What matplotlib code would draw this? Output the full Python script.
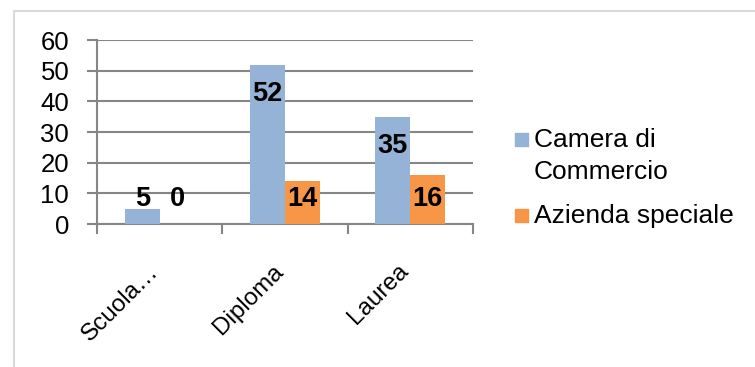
import matplotlib
matplotlib.use("Agg")
import matplotlib.pyplot as plt
from matplotlib.patches import Rectangle
import matplotlib.transforms as mtransforms
import numpy as np

plt.rcParams['font.family'] = ['Liberation Sans', 'DejaVu Sans']

categories = ["Scuola…", "Diploma", "Laurea"]
series_names = ["Camera di\nCommercio", "Azienda speciale"]
camera = [5, 52, 35]
azienda = [0, 14, 16]
yticks = [0, 10, 20, 30, 40, 50, 60]

blue = "#95B3D7"
orange = "#F79646"
grid_col = "#868686"
colors = [blue, orange]

fig = plt.figure(figsize=(7.55, 3.67), dpi=100)
fig.patches.append(Rectangle((14 / 755, -0.1), 1.2, 1 - 11 / 367 + 0.1,
                             transform=fig.transFigure, fill=False,
                             edgecolor="#D9D9D9", linewidth=1.5))

ax = fig.add_axes([97 / 755, 1 - 224 / 367, 376 / 755, 184 / 367])

x = np.arange(len(categories))
w = 0.278
ax.bar(x - w / 2, camera, w, color=blue, zorder=3)
ax.bar(x + w / 2, azienda, w, color=orange, zorder=3)

# value labels: just inside the bar end, kept clear of the axis
for xs, vals in ((x - w / 2, camera), (x + w / 2, azienda)):
    for xi, v in zip(xs, vals):
        ax.text(xi, max(v - 9.5, 8.2), str(v), ha="center", va="center",
                fontsize=19.5, fontweight="bold", color="black", zorder=4)

ax.set_ylim(0, 60)
ax.set_xlim(-0.5, len(categories) - 0.5)
ax.set_yticks(yticks)
ax.set_yticklabels([str(t) for t in yticks], fontsize=18.5)
ax.yaxis.grid(True, color=grid_col, linewidth=1.5, zorder=0)
ax.set_axisbelow(True)

# category boundary ticks
ax.set_xticks(np.arange(-0.5, len(categories)))
ax.set_xticklabels([])
ax.tick_params(axis="x", length=7, width=1.5, color=grid_col)
ax.tick_params(axis="y", length=7, width=1.5, color=grid_col, pad=13)

off = mtransforms.ScaledTranslation(-5 / 100, -44 / 100, fig.dpi_scale_trans)
for xi, lab in zip(x, categories):
    ax.text(xi, 0, lab, rotation=45, ha="right", va="center",
            rotation_mode="anchor", fontsize=17.5,
            transform=ax.get_xaxis_transform() + off)

for s in ("top", "right"):
    ax.spines[s].set_visible(False)
for s in ("left", "bottom"):
    ax.spines[s].set_color(grid_col)
    ax.spines[s].set_linewidth(1.5)

# legend: square key aligned with the first line of each entry
legend_rows = [139, 215]
for name, col, ry in zip(series_names, colors, legend_rows):
    fig.patches.append(Rectangle((515 / 755, 1 - (ry + 7) / 367), 13 / 755, 13 / 367,
                                 transform=fig.transFigure, color=col))
    fig.text(534 / 755, 1 - (ry - 11) / 367, name, ha="left", va="top",
             fontsize=19, linespacing=1.4)

fig.savefig("out.png", dpi=100)
